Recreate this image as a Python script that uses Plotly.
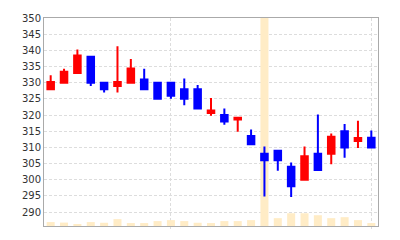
import plotly.graph_objects as go

idx = list(range(25))
opens  = [328, 330, 333, 338, 330, 329, 330, 331, 330, 330, 328, 328, 320.6, 320, 318.6, 313.5, 308, 309, 304, 300, 308, 308, 315, 312, 313]
highs  = [332.3, 334.3, 340.3, 338.3, 330.3, 341.3, 337.3, 334.3, 330.3, 330.3, 331.3, 329.3, 325.3, 322, 319.2, 315.5, 310.3, 309.3, 305.3, 310.3, 320.2, 314.3, 317.2, 318.2, 315.2]
lows   = [328, 330, 333, 329, 327, 327, 330, 328, 325, 325, 323, 322, 319.8, 317, 314.8, 311, 294.8, 302.8, 294.7, 299.8, 302.8, 304.8, 306.8, 309.8, 310]
closes = [330.2, 333.4, 338.4, 330, 328, 330.2, 334.4, 328, 325, 326, 325, 322, 321.4, 318, 319.2, 311, 306, 306, 298, 307.3, 303, 313.3, 310, 312.9, 310]
volumes = [40, 35, 20, 40, 33, 70, 30, 30, 50, 60, 50, 33, 30, 50, 50, 60, 2120, 80, 130, 130, 110, 80, 90, 60, 30]
grid_x = [9, 24]
price_ticks = list(range(290, 351, 5))

fig = go.Figure()
fig.add_trace(go.Bar(
    x=idx, y=volumes, marker=dict(color="#ffecc6", line=dict(width=0)),
    yaxis="y", hoverinfo="skip", showlegend=False))
fig.add_trace(go.Candlestick(
    x=idx, open=opens, high=highs, low=lows, close=closes, yaxis="y2",
    increasing=dict(line=dict(color="#ff0000", width=2), fillcolor="#ff0000"),
    decreasing=dict(line=dict(color="#0000ff", width=2), fillcolor="#0000ff"),
    showlegend=False))

fig.update_layout(
    width=400, height=240,
    margin=dict(l=44, r=22, t=14, b=14),
    paper_bgcolor="white", plot_bgcolor="white",
    bargap=0.4, boxgap=0.3,
    font=dict(family="DejaVu Sans", size=10, color="#333333"),
    xaxis=dict(range=[-0.5, 24.5], tickvals=grid_x, showticklabels=False,
               showgrid=True, gridcolor="#dddddd", griddash="3px,2px",
               showline=True, linecolor="#aaaaaa", linewidth=1, mirror=True,
               ticks="outside", ticklen=2, tickcolor="#dddddd",
               rangeslider=dict(visible=False), zeroline=False),
    yaxis=dict(range=[0, max(volumes)], showticklabels=False, showgrid=False,
               zeroline=False, showline=False),
    yaxis2=dict(range=[285.7, 350], tickvals=price_ticks, overlaying="y", side="left",
                showgrid=True, gridcolor="#dddddd", griddash="3px,2px",
                showline=True, linecolor="#aaaaaa", linewidth=1, mirror=True,
                zeroline=False, ticks="", tickfont=dict(size=10, color="#333333")),
)
fig.write_html("out.html")
